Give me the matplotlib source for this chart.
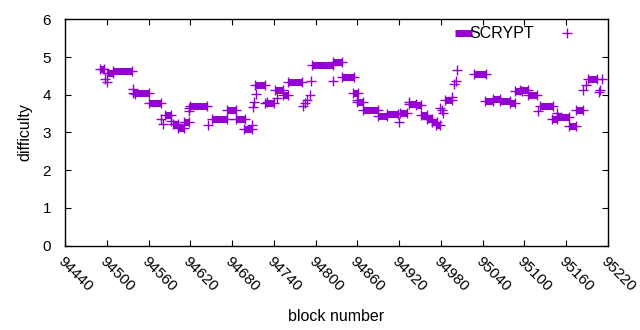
import matplotlib
matplotlib.use("Agg")
import matplotlib.pyplot as plt
import matplotlib.transforms as mtransforms
import numpy as np

plt.rcParams['font.family'] = ['Liberation Sans', 'DejaVu Sans']

# runs of blocks that kept the same difficulty (first block, last block, difficulty)
run_start = [94490, 94500, 94509, 94538, 94561, 94584, 94595, 94602, 94611, 94620,
             94651, 94673, 94686, 94697, 94713, 94727, 94742, 94753, 94760, 94795,
             94825, 94838, 94854, 94859, 94868, 94890, 94903, 94921, 94934, 94944,
             94951, 94960, 94967, 94973, 94986, 95028, 95043, 95055, 95065, 95079,
             95086, 95094, 95105, 95122, 95140, 95147, 95164, 95174, 95191]
run_end = [94496, 94509, 94536, 94561, 94578, 94592, 94602, 94611, 94618, 94644,
           94673, 94686, 94699, 94709, 94727, 94740, 94753, 94760, 94780, 94825,
           94838, 94855, 94861, 94868, 94890, 94903, 94918, 94931, 94944, 94951,
           94960, 94967, 94974, 94979, 94996, 95045, 95055, 95065, 95079, 95086,
           95096, 95105, 95118, 95141, 95147, 95164, 95174, 95184, 95204]
run_diff = [4.68, 4.57, 4.62, 4.06, 3.79, 3.46, 3.22, 3.12, 3.29, 3.70,
            3.37, 3.61, 3.35, 3.09, 4.25, 3.77, 4.12, 3.99, 4.33, 4.78,
            4.88, 4.46, 4.06, 3.81, 3.59, 3.43, 3.48, 3.51, 3.75, 3.73,
            3.46, 3.37, 3.28, 3.20, 3.86, 4.54, 3.83, 3.88, 3.83, 3.77,
            4.10, 4.14, 3.99, 3.70, 3.36, 3.42, 3.17, 3.59, 4.41]

# single blocks in between
single_block = [94498, 94501, 94537, 94541, 94578, 94581, 94592, 94618, 94618, 94645,
                94708, 94710, 94711, 94714, 94730, 94744, 94782, 94785, 94788, 94792,
                94794, 94825, 94860, 94920, 94934, 94979, 94982, 94983, 94996, 94999,
                95002, 95003, 95119, 95147, 95184, 95188, 95207, 95209, 95212]
single_diff = [4.42, 4.33, 4.15, 4.01, 3.37, 3.22, 3.30, 3.64, 3.57, 3.20,
               3.20, 3.68, 3.81, 4.01, 3.81, 3.92, 3.71, 3.77, 3.86, 3.99,
               4.38, 4.38, 3.86, 3.28, 3.81, 3.64, 3.59, 3.51, 3.95, 4.30,
               4.36, 4.66, 3.57, 3.51, 4.12, 4.26, 4.08, 4.12, 4.43]

col = '#9400d3'

fig = plt.figure(figsize=(6.4, 3.3), dpi=100)
ax = fig.add_axes([0.1016, 0.256, 0.8484, 0.685])

# thick segments for the runs
ax.hlines(run_diff, run_start, run_end, colors=col, linewidth=5.0, capstyle='butt')
# + marks on every block read
ax.plot(run_start + run_end + single_block, run_diff + run_diff + single_diff,
        linestyle='none', marker='+', markersize=7, markeredgewidth=1.0, color=col)

ax.set_xlim(94440, 95220)
ax.set_ylim(0, 6)
xt = np.arange(94440, 95221, 60)
ax.set_xticks(xt)
ax.set_xticklabels([str(v) for v in xt], rotation=-45, ha='left', va='top',
                   rotation_mode='anchor', fontsize=11)
# nudge the slanted labels right so they start at their tick
shift = mtransforms.ScaledTranslation(4 / 100, 0, fig.dpi_scale_trans)
for lab in ax.get_xticklabels():
    lab.set_transform(lab.get_transform() + shift)
ax.set_yticks(range(0, 7))
ax.tick_params(axis='y', labelsize=11, pad=10)
ax.tick_params(direction='in', top=True, right=True, length=4, width=0.8)
ax.tick_params(axis='x', pad=6)
for s in ax.spines.values():
    s.set_linewidth(1.0)

ax.set_xlabel('block number', fontsize=11.5)
ax.set_ylabel('difficulty', fontsize=11.5)
ax.xaxis.set_label_coords(0.5, -0.28)
ax.yaxis.set_label_coords(-0.06, 0.5)

# key, gnuplot style
ax.plot([0.718, 0.75], [0.94, 0.94], transform=ax.transAxes, color=col,
        linewidth=5.0, solid_capstyle='butt')
ax.text(0.745, 0.94, 'SCRYPT', transform=ax.transAxes, fontsize=11.5,
        va='center', ha='left')
ax.plot([0.925], [0.94], transform=ax.transAxes, color=col, marker='+',
        markersize=7, markeredgewidth=1.0, linestyle='none')

fig.savefig('out.png', dpi=100)
